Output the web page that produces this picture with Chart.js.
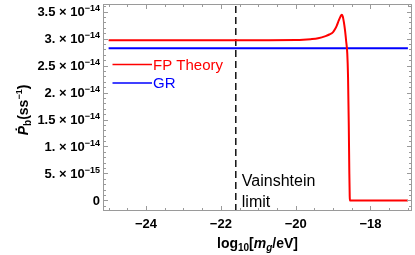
<!DOCTYPE html>
<html>
<head>
<meta charset="utf-8">
<script src="https://cdn.jsdelivr.net/npm/chart.js@4"></script>
<style>
html, body { margin: 0; padding: 0; background: #fff; }
#wrap { width: 415px; height: 255px; }
</style>
</head>
<body>
<div id="wrap"><canvas id="chart" width="415" height="255"></canvas></div>
<script>
// log10(m_g / eV) samples of the FP theory curve and its Pdot_b values (s/s)
const logMg = [-25, -24, -23, -22, -21, -20, -19.8, -19.6, -19.4, -19.2, -19.1, -19.0, -18.95, -18.9,
  -18.85, -18.8, -18.77, -18.74, -18.71, -18.68, -18.65, -18.62, -18.6, -18.58, -18.565, -18.555,
  -18.55, -18.3, -18, -17.5, -17];
const fpTheory = [2.97e-14, 2.97e-14, 2.97e-14, 2.97e-14, 2.97e-14, 2.972e-14, 2.976e-14, 2.987e-14,
  3.005e-14, 3.045e-14, 3.075e-14, 3.12e-14, 3.17e-14, 3.24e-14, 3.33e-14, 3.41e-14, 3.44e-14, 3.41e-14,
  3.3e-14, 3.15e-14, 2.95e-14, 2.72e-14, 2.3e-14, 1.4e-14, 0.5e-14, 0.08e-14,
  0, 0, 0, 0, 0];

const grX = [-25, -17];
const grValue = [2.82e-14, 2.82e-14];

const vainshteinX = [-21.6, -21.6];

const xMajorTicks = [-24, -22, -20, -18];
const xTickLabels = ['\u221224', '\u221222', '\u221220', '\u221218'];
const yMajorTicks = [0, 5e-15, 1e-14, 1.5e-14, 2e-14, 2.5e-14, 3e-14, 3.5e-14];
const yTickLabels = ['0', '5. \u00d7 10^\u221215', '1. \u00d7 10^\u221214', '1.5 \u00d7 10^\u221214',
  '2. \u00d7 10^\u221214', '2.5 \u00d7 10^\u221214', '3. \u00d7 10^\u221214', '3.5 \u00d7 10^\u221214'];

const X_MIN = -25.15, X_MAX = -16.89;
const Y_MIN = -0.195e-14, Y_MAX = 3.64e-14;
const FAMILY = '"Liberation Sans", Arial, sans-serif';
const FRAME = '#9a9a9a';

function pts(xs, ys) {
  return xs.map((x, i) => ({ x: x, y: ys[i] }));
}

// draw a run of text pieces, each with its own font and vertical shift
function drawRich(ctx, parts, x, y, align) {
  let total = 0;
  parts.forEach(p => { ctx.font = p.font; total += ctx.measureText(p.text).width; });
  let cx = align === 'right' ? x - total : align === 'center' ? x - total / 2 : x;
  ctx.textAlign = 'left';
  ctx.textBaseline = 'alphabetic';
  parts.forEach(p => {
    ctx.font = p.font;
    ctx.fillStyle = p.color || '#000';
    ctx.fillText(p.text, cx, y + (p.dy || 0));
    cx += ctx.measureText(p.text).width;
  });
}

const framePlugin = {
  id: 'framePlugin',
  afterDatasetsDraw(chart) {
    const ctx = chart.ctx;
    const a = chart.chartArea;
    const xs = chart.scales.x, ys = chart.scales.y;
    ctx.save();

    // frame
    ctx.strokeStyle = FRAME;
    ctx.lineWidth = 1;
    ctx.strokeRect(a.left + 0.5, a.top + 0.5, a.right - a.left - 1, a.bottom - a.top - 1);

    // ticks, inward on all four sides
    ctx.beginPath();
    for (let v = -25; v <= -17.001 + 0.002; v += 0.5) {
      const px = Math.round(xs.getPixelForValue(v)) + 0.5;
      const len = Math.abs(v / 2 - Math.round(v / 2)) < 1e-6 ? 5 : 3;
      ctx.moveTo(px, a.bottom); ctx.lineTo(px, a.bottom - len);
      ctx.moveTo(px, a.top); ctx.lineTo(px, a.top + len);
    }
    for (let k = -1; k <= 36; k++) {
      const py = Math.round(ys.getPixelForValue(k * 1e-15)) + 0.5;
      const len = k % 5 === 0 ? 5 : 3;
      ctx.moveTo(a.left, py); ctx.lineTo(a.left + len, py);
      ctx.moveTo(a.right, py); ctx.lineTo(a.right - len, py);
    }
    ctx.stroke();

    // x tick labels
    ctx.fillStyle = '#000';
    xMajorTicks.forEach((v, i) => {
      drawRich(ctx, [{ text: xTickLabels[i], font: 'bold 13px ' + FAMILY }],
        xs.getPixelForValue(v), a.bottom + 17, 'center');
    });

    // y tick labels with superscript exponents
    yMajorTicks.forEach((v, i) => {
      const py = ys.getPixelForValue(v);
      const bits = yTickLabels[i].split('^');
      const parts = [{ text: bits[0], font: 'bold 13px ' + FAMILY }];
      if (bits[1]) parts.push({ text: bits[1], font: 'bold 9px ' + FAMILY, dy: -5.3 });
      drawRich(ctx, parts, a.left - 3, py + 4.6, 'right');
    });

    // x axis title: log10[m_g/eV]
    drawRich(ctx, [
      { text: 'log', font: 'bold 14px ' + FAMILY },
      { text: '10', font: 'bold 10px ' + FAMILY, dy: 3 },
      { text: '[', font: 'bold 14px ' + FAMILY },
      { text: 'm', font: 'italic bold 14px ' + FAMILY },
      { text: 'g', font: 'italic bold 10px ' + FAMILY, dy: 3 },
      { text: '/eV]', font: 'bold 14px ' + FAMILY }
    ], (a.left + a.right) / 2, 248, 'center');

    // y axis title: Pdot_b (s s^-1)
    ctx.save();
    ctx.translate(28, 110);
    ctx.rotate(-Math.PI / 2);
    drawRich(ctx, [
      { text: '\u1E56', font: 'italic bold 14px ' + FAMILY },
      { text: 'b', font: 'bold 10px ' + FAMILY, dy: 3 },
      { text: '(ss', font: 'bold 14px ' + FAMILY },
      { text: '\u22121', font: 'bold 9px ' + FAMILY, dy: -6 },
      { text: ')', font: 'bold 14px ' + FAMILY }
    ], 0, 0, 'center');
    ctx.restore();

    // legend inside the plot
    const legend = [
      { label: 'FP Theory', color: chart.data.datasets[0].borderColor, y: 64.5 },
      { label: 'GR', color: chart.data.datasets[1].borderColor, y: 83 }
    ];
    legend.forEach(item => {
      ctx.strokeStyle = item.color;
      ctx.lineWidth = 1.5;
      ctx.beginPath();
      ctx.moveTo(112.5, item.y);
      ctx.lineTo(152, item.y);
      ctx.stroke();
      drawRich(ctx, [{ text: item.label, font: '15px ' + FAMILY, color: item.color }], 153, item.y + 5, 'left');
    });

    // Vainshtein limit label
    const lx = xs.getPixelForValue(vainshteinX[0]) + 6;
    drawRich(ctx, [{ text: 'Vainshtein', font: '16px ' + FAMILY }], lx, 186, 'left');
    drawRich(ctx, [{ text: 'limit', font: '16px ' + FAMILY }], lx, 207, 'left');

    ctx.restore();
  }
};

new Chart(document.getElementById('chart').getContext('2d'), {
  type: 'scatter',
  data: {
    datasets: [{
      label: 'FP Theory',
      data: pts(logMg, fpTheory),
      showLine: true,
      borderColor: '#ff0000',
      borderWidth: 2,
      pointRadius: 0,
      cubicInterpolationMode: 'monotone',
      order: 1
    }, {
      label: 'GR',
      data: pts(grX, grValue),
      showLine: true,
      borderColor: '#0000ff',
      borderWidth: 2,
      pointRadius: 0,
      order: 2
    }, {
      label: 'Vainshtein limit',
      data: pts(vainshteinX, [Y_MIN, Y_MAX]),
      showLine: true,
      borderColor: '#000',
      borderWidth: 1.4,
      borderDash: [7, 4],
      pointRadius: 0,
      order: 3
    }]
  },
  options: {
    responsive: false,
    animation: false,
    layout: { padding: { left: 103, top: 4, right: 3, bottom: 44 } },
    scales: {
      x: { type: 'linear', display: false, min: X_MIN, max: X_MAX },
      y: { type: 'linear', display: false, min: Y_MIN, max: Y_MAX }
    },
    plugins: {
      legend: { display: false },
      tooltip: { enabled: false }
    }
  },
  plugins: [framePlugin]
});
</script>
</body>
</html>
